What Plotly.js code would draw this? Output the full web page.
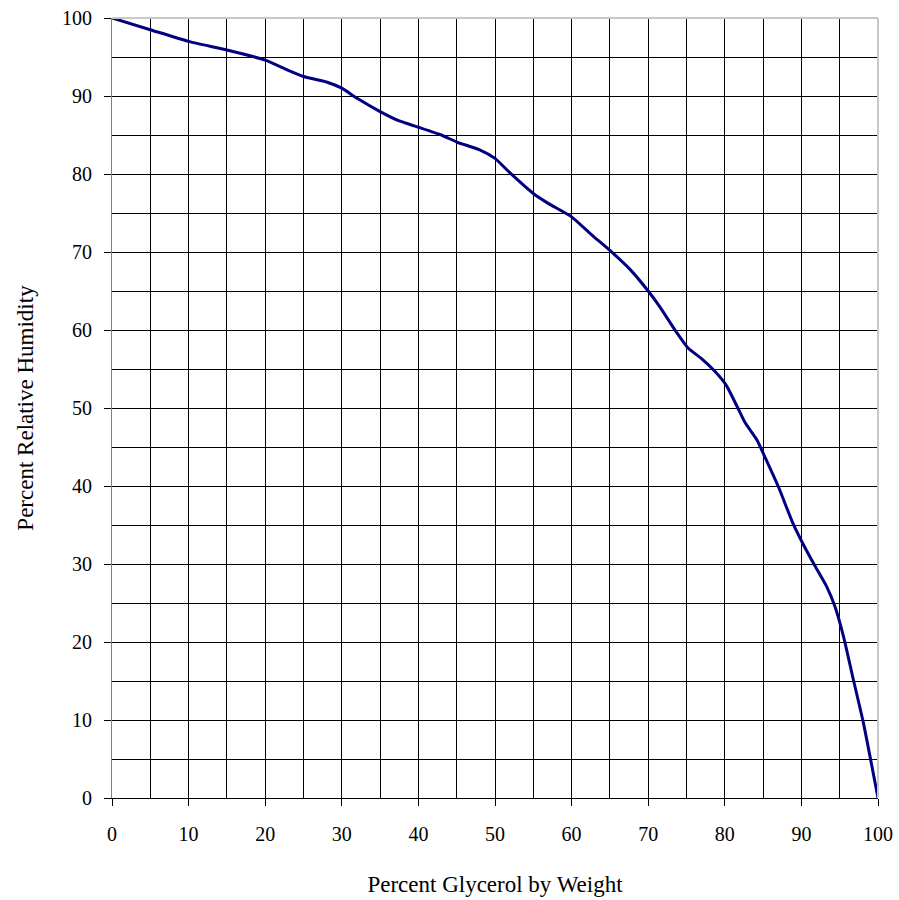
<!DOCTYPE html>
<html>
<head>
<meta charset="utf-8">
<script src="https://cdn.plot.ly/plotly-3.0.1.min.js"></script>
<style>html,body{margin:0;padding:0;background:#fff;}#chart{width:899px;height:900px;}</style>
</head>
<body>
<div id="chart"></div>
<script>
const glycerolPct = [0, 5, 10, 15, 20, 23, 25, 28, 30, 32, 35, 37.5, 40, 43, 45, 48, 50, 52, 55, 57, 60, 62.5, 65, 67.5, 70, 71.5, 73.5, 75.2, 77, 78.7, 80.2, 81.7, 82.6, 84.2, 85.2, 87, 88.9, 90.2, 91.8, 93.3, 94.4, 95.5, 96.8, 98.1, 100];
const relHumidity = [100, 98.5, 97, 95.9, 94.6, 93.3, 92.5, 91.8, 91.0, 89.7, 88.0, 86.8, 86.0, 85.0, 84.1, 83.1, 82.0, 80.1, 77.5, 76.2, 74.5, 72.3, 70.2, 67.9, 65.0, 63.0, 60.0, 57.7, 56.3, 54.7, 52.9, 50.0, 48.2, 45.9, 43.8, 39.9, 35.2, 32.6, 29.7, 27.1, 24.5, 20.7, 15.1, 9.6, 0];
const xTickVals = [0, 10, 20, 30, 40, 50, 60, 70, 80, 90, 100];
const yTickVals = [0, 10, 20, 30, 40, 50, 60, 70, 80, 90, 100];

const font = 'Liberation Serif, Times New Roman, serif';
Plotly.newPlot('chart', [{
  x: glycerolPct, y: relHumidity, type: 'scatter', mode: 'lines',
  line: {color: '#000080', width: 3, shape: 'spline', smoothing: 0.5},
  hoverinfo: 'skip'
}], {
  width: 899, height: 900,
  margin: {l: 112, r: 21, t: 18, b: 102},
  paper_bgcolor: '#fff', plot_bgcolor: '#fff',
  showlegend: false,
  font: {family: font, color: '#000', size: 20},
  xaxis: {
    range: [0, 100], tickvals: xTickVals, ticks: 'outside', ticklen: 7, tickcolor: '#000',
    ticklabelstandoff: 11,
    showgrid: true, gridcolor: '#000', gridwidth: 1,
    minor: {dtick: 5, showgrid: true, gridcolor: '#000', gridwidth: 1, ticks: ''},
    showline: true, linecolor: '#000', linewidth: 1, zeroline: false,
    tickfont: {family: font, size: 20, color: '#000'},
    title: {text: 'Percent Glycerol by Weight', font: {family: font, size: 23, color: '#000'}, standoff: 31}
  },
  yaxis: {
    range: [0, 100], tickvals: yTickVals, ticks: 'outside', ticklen: 7, tickcolor: '#000',
    ticklabelstandoff: 8,
    showgrid: true, gridcolor: '#000', gridwidth: 1,
    minor: {dtick: 5, showgrid: true, gridcolor: '#000', gridwidth: 1, ticks: ''},
    showline: true, linecolor: '#808080', linewidth: 1, zeroline: false,
    tickfont: {family: font, size: 20, color: '#000'},
    title: {text: 'Percent Relative Humidity', font: {family: font, size: 23, color: '#000'}, standoff: 21}
  },
  shapes: [
    {type: 'line', xref: 'paper', yref: 'paper', x0: 0, x1: 1, y0: 1, y1: 1, line: {color: '#c8c8c8', width: 2}},
    {type: 'line', xref: 'paper', yref: 'paper', x0: 1, x1: 1, y0: 0, y1: 1, line: {color: '#c8c8c8', width: 2}}
  ]
}, {displayModeBar: false, staticPlot: true});
</script>
</body>
</html>
